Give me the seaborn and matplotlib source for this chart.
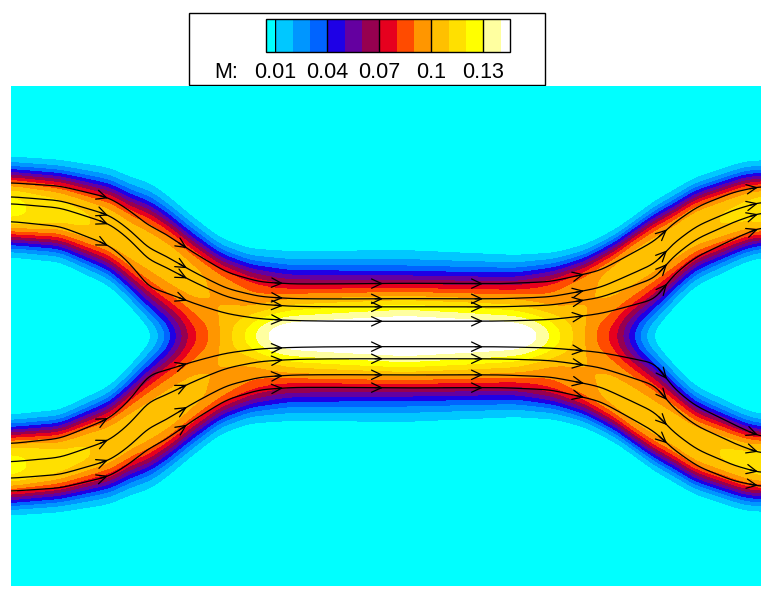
import numpy as np
import matplotlib
matplotlib.use("Agg")
import matplotlib.pyplot as plt
from matplotlib.patches import Rectangle
import seaborn as sns

# ---------------- data ----------------
levels = [0.01, 0.02, 0.03, 0.04, 0.05, 0.06, 0.07, 0.08, 0.09, 0.10, 0.11, 0.12, 0.13, 0.14]
band_colors = ["#00FFFF", "#00C8FF", "#0096FF", "#0064FF", "#1E00E6", "#6400A0", "#960050",
               "#E6001E", "#FF4B00", "#FF9600", "#FFC000", "#FFE000", "#FFFF00", "#FFFFA0", "#FFFFFF"]
tick_values = [0.01, 0.04, 0.07, 0.10, 0.13]
tick_labels = ["0.01", "0.04", "0.07", "0.1", "0.13"]
legend_title = "M:"

# upper jet (lower jet is its mirror image about y = 0)
ctrl_x = [0.00, 0.49, 0.99, 1.19, 1.39, 1.59, 1.79, 2.09, 2.39, 2.79, 3.94,
          5.04, 5.44, 5.74, 6.04, 6.24, 6.44, 6.64, 6.84, 7.34, 7.50]
jet_center = [1.29, 1.25, 1.09, 0.96, 0.86, 0.74, 0.60, 0.44, 0.34, 0.23, 0.15,
              0.23, 0.34, 0.44, 0.60, 0.74, 0.86, 0.96, 1.09, 1.25, 1.27]
jet_outer_w = [0.36, 0.37, 0.43, 0.46, 0.49, 0.47, 0.45, 0.40, 0.40, 0.47, 0.54,
               0.44, 0.37, 0.35, 0.34, 0.34, 0.36, 0.37, 0.36, 0.36, 0.35]
jet_inner_w = [0.36, 0.37, 0.43, 0.48, 0.58, 0.62, 0.60, 0.51, 0.48, 0.52, 0.54,
               0.52, 0.48, 0.51, 0.60, 0.62, 0.58, 0.48, 0.43, 0.37, 0.35]
jet_peak = [0.123, 0.113, 0.108, 0.106, 0.105, 0.105, 0.103, 0.097, 0.090, 0.083, 0.080,
            0.083, 0.090, 0.097, 0.103, 0.105, 0.105, 0.106, 0.108, 0.112, 0.116]
profile_power = 2.8

# jet edges used to place the streamlines
edge_x = [0.00, 0.49, 0.99, 1.49, 1.82, 2.16, 2.49, 2.82, 3.94, 4.89, 5.39, 5.89, 6.22, 6.56, 6.89, 7.22, 7.50]
outer_edge = [1.78, 1.76, 1.69, 1.46, 1.19, 0.93, 0.81, 0.79, 0.81, 0.80, 0.82, 0.96, 1.19, 1.43, 1.63, 1.74, 1.76]
inner_x = [0.00, 0.49, 0.99, 1.19, 1.32, 1.37, 6.46, 6.59, 6.82, 7.09, 7.50]
inner_edge = [0.79, 0.73, 0.49, 0.29, 0.09, 0.00, 0.00, 0.23, 0.43, 0.56, 0.79]

# streamline positions (fraction of the way from the outer edge to the inner edge)
upper_frac_left = [0.25, 0.39, 0.46, 0.64]
upper_frac_mid = [0.35, 0.54, 0.64, 0.82]
upper_frac_right = [0.27, 0.43, 0.54, 0.69]
lower_frac_left = [0.23, 0.36, 0.525, 0.71]
lower_frac_mid = [0.36, 0.52, 0.72, 0.87]
lower_frac_right = [0.26, 0.40, 0.60, 0.77]
arrow_x = [0.97, 1.76, 2.72, 3.72, 4.72, 5.73, 6.56, 7.47]

# ---------------- style ----------------
sns.set_theme(style="white")
plt.rcParams["font.family"] = ["Liberation Sans", "DejaVu Sans"]

fig = plt.figure(figsize=(7.72, 5.95), dpi=100)
fig.patch.set_facecolor("white")

xf = np.linspace(0.0, 7.5, 751)
yf = np.linspace(-2.5, 2.5, 501)


def smooth_curve(xc, yc, win=15, passes=2):
    y = np.interp(xf, xc, yc)
    k = np.ones(win) / win
    for _ in range(passes):
        y = np.convolve(np.pad(y, win // 2, mode="edge"), k, mode="valid")
    return y


yc = smooth_curve(ctrl_x, jet_center)
wo = smooth_curve(ctrl_x, jet_outer_w)
wi = smooth_curve(ctrl_x, jet_inner_w)
amp = smooth_curve(ctrl_x, jet_peak)

Xg, Yg = np.meshgrid(xf, yf)


def jet(d):
    w = np.where(d > 0, wo[None, :], wi[None, :])
    return amp[None, :] * np.exp(-(np.abs(d) / w) ** profile_power)


M = jet(Yg - yc[None, :]) + jet(-Yg - yc[None, :])

ax = fig.add_axes([11 / 772, 1 - 586 / 595, 750 / 772, 500 / 595])
cs = ax.contourf(Xg, Yg, M, levels=levels, colors=band_colors, extend="both", antialiased=False)
ax.set_xlim(0, 7.5)
ax.set_ylim(-2.5, 2.5)
ax.set_axis_off()

# streamlines
O = smooth_curve(edge_x, outer_edge)
I = smooth_curve(inner_x, inner_edge)
TL = 0.5 * (1 - np.tanh((xf - 1.89) / 0.8))
TR = 0.5 * (1 + np.tanh((xf - 6.04) / 0.8))


def draw_line(fl, fm, fr, sign):
    f = fm + (fl - fm) * TL + (fr - fm) * TR
    y = sign * (O - f * (O - I))
    sns.lineplot(x=xf, y=y, ax=ax, color="black", lw=0.9, estimator=None, sort=False, legend=False)
    for xa in arrow_x:
        i = int(np.argmin(np.abs(xf - xa)))
        j = max(i - 8, 0)
        ax.annotate("", xy=(xf[i], y[i]), xytext=(xf[j], y[j]),
                    arrowprops=dict(arrowstyle="->,head_length=0.6,head_width=0.28",
                                    color="black", lw=0.9, shrinkA=0, shrinkB=0))


for k in range(4):
    draw_line(upper_frac_left[k], upper_frac_mid[k], upper_frac_right[k], 1)
    draw_line(lower_frac_left[k], lower_frac_mid[k], lower_frac_right[k], -1)

# legend box with colour bar
fig.add_artist(Rectangle((189 / 772, 1 - 85 / 595), 356 / 772, 72 / 595, transform=fig.transFigure,
                         facecolor="white", edgecolor="black", lw=1.0, zorder=-1))
cax = fig.add_axes([266 / 772, 1 - 52 / 595, 244 / 772, 33.5 / 595])
cb = fig.colorbar(cs, cax=cax, orientation="horizontal", extend="both", extendrect=True,
                  extendfrac=0.041)
cb.outline.set_edgecolor("black")
cb.outline.set_linewidth(1.0)
cb.set_ticks(tick_values, labels=tick_labels)
cax.tick_params(axis="x", length=0, pad=7, labelsize=15.5, colors="black")
for v in tick_values:
    cax.axvline(v, color="black", lw=1.0)
fig.text(214 / 772, 1 - 72 / 595, legend_title, fontsize=15.5, va="center", ha="left", color="black")

fig.savefig("out.png", dpi=100)
